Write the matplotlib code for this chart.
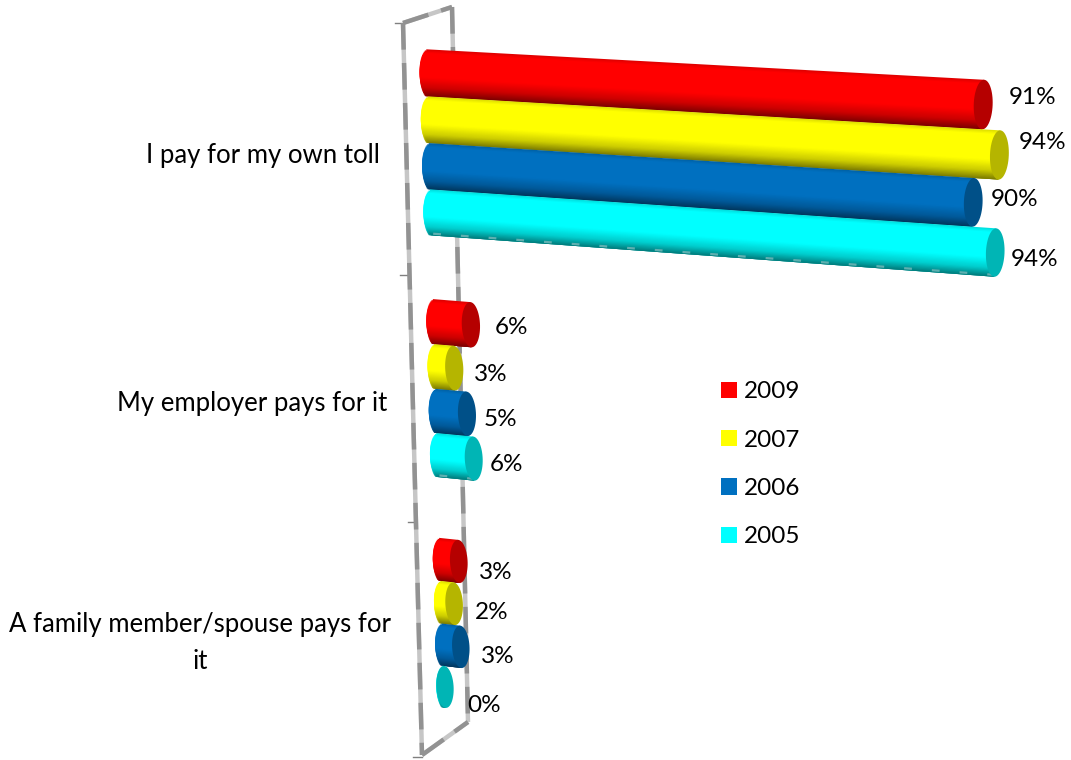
import numpy as np
import matplotlib
matplotlib.use("Agg")
import matplotlib.pyplot as plt
from matplotlib.patches import Patch
from matplotlib.transforms import Transform

plt.rcParams['font.family'] = ['Lato', 'DejaVu Sans']

# ---- data ----
categories = ["I pay for my own toll", "My employer pays for it",
              "A family member/spouse pays for\nit"]
series_names = ["2009", "2007", "2006", "2005"]
values_2009 = [91, 6, 3]
values_2007 = [94, 3, 2]
values_2006 = [90, 5, 3]
values_2005 = [94, 6, 0]
series_values = [values_2009, values_2007, values_2006, values_2005]
series_colors = ["#FF0000", "#FFFF00", "#0070C0", "#00FFFF"]

# ---- style / layout ----
W, H = 1071, 760
GROUP_STRIDE = 5.4       # rows between groups
CAP_A = 1.55             # cap half-width in value units
FONT = 17.5
CAT_FONT = 18.5
# label offsets from bar end, in pixels (dx, dy down)
label_offsets = [[(26, -7), (24, 3), (20, 11)],
                 [(19, -13), (20, 6), (21, 9)],
                 [(18, -3), (17, 6), (20, 10)],
                 [(16, 7), (16, 6), (22, 19)]]
category_xy = [(263, 155), (252, 403), (200, 643)]
frame_color_light = "#c6c6c6"
frame_color_dark = "#929292"


class Perspective(Transform):
    """(value %, row position) -> picture position of a tilted 3-D bar chart."""
    input_dims = 2
    output_dims = 2
    is_separable = False

    def transform_non_affine(self, pts):
        pts = np.asarray(pts, dtype=float)
        v, t = pts[:, 0], pts[:, 1]
        k = 6.09 - 0.035 * t
        length = k * v
        drop = 47.1 * t - 0.189 * t * t
        tilt = 0.057 + 0.0047 * t
        y = 73 + drop + tilt * length
        x = 429 + length + 0.026 * drop
        return np.column_stack([x, y])


def shade(color, f):
    c = np.array(matplotlib.colors.to_rgb(color))
    return tuple(np.clip(c * f, 0, 1))


fig = plt.figure(figsize=(W / 100, H / 100), dpi=100, facecolor="white")
ax = fig.add_axes([0, 0, 1, 1])
ax.set_xlim(0, W)
ax.set_ylim(H, 0)
ax.axis("off")
ax.set_autoscale_on(False)
proj = Perspective() + ax.transData

# frame (walls of the 3-D box)
walls = [((403, 23), (422, 755)), ((452, 7), (468, 722)),
         ((403, 23), (452, 7)), ((422, 755), (468, 722))]
for (x0, y0), (x1, y1) in walls:
    ax.plot([x0, x1], [y0, y1], color=frame_color_light, lw=3.2, zorder=1,
            solid_capstyle="butt")
    ax.plot([x0, x1], [y0, y1], color=frame_color_dark, lw=3.2, zorder=1.1,
            linestyle=(0, (6, 3)), dash_capstyle="butt")
for (x0, x1, y) in [(395, 403, 23), (400, 408, 275), (408, 415, 522), (413, 422, 757)]:
    ax.plot([x0, x1], [y, y], color="#808080", lw=1.0, zorder=1)

# cylinders
N = 40
edges = np.linspace(0, 1, N + 1)
for g in range(len(categories)):
    for i, (vals, col) in enumerate(zip(series_values, series_colors)):
        v = vals[g]
        t0 = g * GROUP_STRIDE + i
        z = 2 + g + i * 0.1
        for a, b in zip(edges[:-1], edges[1:]):
            s = 0.5 * (a + b)
            f = np.interp(s, [0, 0.08, 0.6, 0.82, 1], [0.86, 1, 1, 0.8, 0.48])
            bulge = CAP_A * np.sqrt(max(0, 1 - (2 * s - 1) ** 2))
            ta, tb = t0 - 0.5 + a, t0 - 0.5 + min(1, b + 0.06)
            ax.fill([-bulge, v, v, -bulge], [ta, ta, tb, tb], color=shade(col, f),
                    lw=0, transform=proj, zorder=z)
        if i == 3 and v > 0:  # speckled lower rim of the last series
            ax.plot([0, v], [t0 + 0.46, t0 + 0.46], color="#5fb0b0", lw=1.6,
                    linestyle=(0, (3.5, 9)), transform=proj, zorder=z + 0.005)
        th = np.linspace(0, 2 * np.pi, 60)
        ax.fill(v + CAP_A * np.cos(th), t0 + 0.5 * np.sin(th), color=shade(col, 0.71),
                lw=0, transform=proj, zorder=z + 0.01)
        dx, dy = label_offsets[i][g]
        ax.annotate(f"{v}%", xy=(v, t0), xycoords=proj, xytext=(dx, -dy),
                    textcoords="offset pixels", fontsize=FONT, color="black",
                    ha="left", va="center", zorder=20)

# category labels
for name, (x, y) in zip(categories, category_xy):
    ax.text(x, y, name, ha="center", va="center", multialignment="center",
            fontsize=CAT_FONT, color="black", linespacing=1.58, zorder=20)

# legend
handles = [Patch(facecolor=c, edgecolor="none", label=n)
           for c, n in zip(series_colors, series_names)]
ax.legend(handles=handles, loc="upper left", bbox_to_anchor=(714 / W, 1 - 374 / H),
          frameon=False, fontsize=FONT, handlelength=0.66, handleheight=0.66,
          handletextpad=0.27, labelspacing=1.125, borderpad=0.3, borderaxespad=0)

fig.savefig("out.png", dpi=100, facecolor="white")
